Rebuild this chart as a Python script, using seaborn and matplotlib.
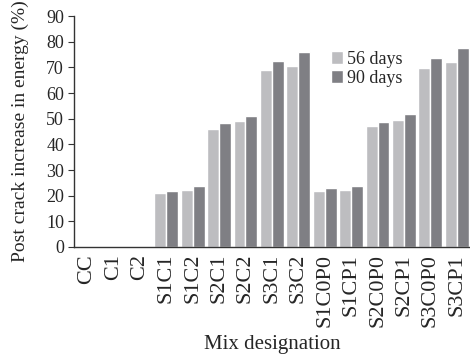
import pandas as pd
import matplotlib.pyplot as plt
import seaborn as sns

# Valores
mixes = ['CC', 'C1', 'C2', 'S1C1', 'S1C2', 'S2C1', 'S2C2', 'S3C1', 'S3C2',
         'S1C0P0', 'S1CP1', 'S2C0P0', 'S2CP1', 'S3C0P0', 'S3CP1']
days_56 = [0, 0, 0, 21.1, 22.2, 46.0, 49.2, 69.1, 70.6, 21.8, 22.2, 47.2, 49.5, 69.8, 72.2]
days_90 = [0, 0, 0, 21.8, 23.8, 48.4, 51.1, 72.6, 76.1, 23.0, 23.8, 48.8, 51.9, 73.7, 77.6]
series = ['56 days', '90 days']

df = pd.DataFrame({
    'Mix': mixes * 2,
    'Valor': days_56 + days_90,
    'Idade': [series[0]] * len(mixes) + [series[1]] * len(mixes),
})

sns.set_style("ticks")
plt.rcParams['font.family'] = ['Liberation Serif', 'DejaVu Serif']

fig = plt.figure(figsize=(4.7, 3.59), dpi=100)
ax = fig.add_axes([0.157, 0.312, 0.843, 0.643])
sns.barplot(data=df, x='Mix', y='Valor', hue='Idade', order=mixes,
            palette=['#bdbdc0', '#7f7f84'], width=0.9, gap=0, ax=ax,
            saturation=1, errorbar=None)

ax.set_ylim(0, 90)
ax.set_xlim(-0.5, 14.5)
ax.set_yticks(range(0, 91, 10))
ax.tick_params(axis='y', labelsize=13, length=4, width=0.8, color='#333333', pad=3)
ax.tick_params(axis='x', labelsize=16, length=0, rotation=90, pad=5)
ax.set_xlabel('Mix designation', fontsize=15, labelpad=6)
ax.set_ylabel('Post crack increase in energy (%)', fontsize=14, labelpad=12)
sns.despine(ax=ax, top=True, right=True)
for s in ['left', 'bottom']:
    ax.spines[s].set_color('#333333')
    ax.spines[s].set_linewidth(1.0)

ax.legend(title=None, frameon=False, loc='upper left', bbox_to_anchor=(0.63, 0.88),
          fontsize=13, handlelength=0.7, handleheight=0.7, handletextpad=0.2,
          labelspacing=0.1, borderaxespad=0)

fig.savefig('out.png', dpi=100)
